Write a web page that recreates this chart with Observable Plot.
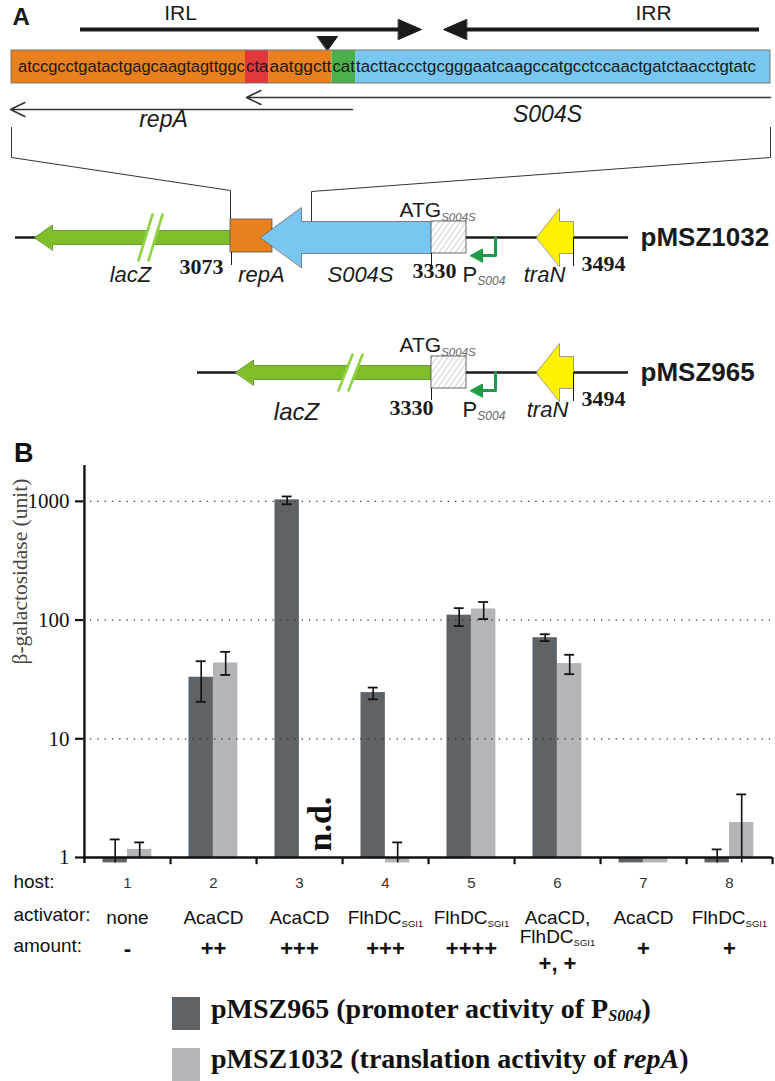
<!DOCTYPE html>
<html><head><meta charset="utf-8">
<script src="https://cdn.jsdelivr.net/npm/d3@7"></script>
<script src="https://cdn.jsdelivr.net/npm/@observablehq/plot@0.6"></script>
<style>
body{margin:0;background:#fff;}
#wrap{position:relative;width:775px;height:1081px;overflow:hidden;background:#fff;}
#wrap > *{position:absolute;}
svg{overflow:visible;}
#pb g[aria-label^="y-axis"] line, #pb g[aria-label="y-axis tick"] path{stroke-width:2.2px;stroke:#111;}
.leg{font-family:"Liberation Serif";font-weight:bold;font-size:28px;line-height:32px;color:#111;white-space:nowrap;}
.leg sub{font-size:0.58em;font-style:italic;vertical-align:-0.2em;line-height:0;}
</style></head><body><div id="wrap"></div>
<script>
// ---------------- Panel B data ----------------
const hosts = ["1","2","3","4","5","6","7","8"];
const activators = ["none","AcaCD","AcaCD","FlhDC_{SGI1}","FlhDC_{SGI1}","AcaCD,\nFlhDC_{SGI1}","AcaCD","FlhDC_{SGI1}"];
const amounts = ["-","++","+++","+++","++++","+, +","+","+"];
const seriesNames = ["pMSZ965","pMSZ1032"];
const promoter      = [0.9, 33, 1030, 24.5, 110, 71, 0.9, 0.9];
const promoterHi    = [1.42, 45, 1100, 27, 126, 76, null, 1.17];
const promoterLo    = [0.9, 20.5, 945, 21.5, 89, 66.5, null, 0.9];
const translation   = [1.17, 43.5, null, 0.9, 124, 43, 0.9, 1.97];
const translationHi = [1.34, 54, null, 1.34, 142, 51, null, 3.4];
const translationLo = [1.0, 34.5, null, 0.9, 102, 35, null, 0.9];
const yTicks = [1, 10, 100, 1000];
const gridValues = [10, 100, 1000];
const yLabel = "β-galactosidase (unit)";
const legendLabels = ["pMSZ965 (promoter activity of P<sub>S004</sub>)", "pMSZ1032 (translation activity of <i>repA</i>)"];

// ---------------- Panel A data ----------------
const seqParts = ["atccgcctgatactgagcaagtagttggc", "cta", "aatggctt", "cat", "tacttaccctgcgggaatcaagccatgcctccaactgatctaacctgtatc"];
const seqRoles = ["repA", "stop", "overlap", "start", "S004S"];
const constructs = ["pMSZ1032", "pMSZ965"];
const coords = ["3073", "3330", "3494"];

const sans = "Liberation Sans", serif = "Liberation Serif", ink = "#1a1a1a";
const C = {orange:"#e8801f", red:"#e2383b", green:"#4cb04a", blue:"#79c7f0", lime:"#80bd2a", limeLine:"#8fd244", yellow:"#fff200", dkgreen:"#1f9a46"};
const roleColor = {repA:C.orange, stop:C.red, overlap:C.orange, start:C.green, S004S:C.blue};

function subify(svg, {italic=false, fill=null, size="0.52em", shift="0.35em"} = {}) {
  const NS = "http://www.w3.org/2000/svg";
  svg.querySelectorAll("text, tspan").forEach(el => {
    Array.from(el.childNodes).forEach(node => {
      if (node.nodeType !== 3 || !node.nodeValue.includes("_{")) return;
      const s = node.nodeValue, frag = document.createDocumentFragment();
      const re = /_\{([^}]*)\}/g; let last = 0, m;
      while ((m = re.exec(s))) {
        if (m.index > last) frag.appendChild(document.createTextNode(s.slice(last, m.index)));
        const t = document.createElementNS(NS, "tspan");
        t.setAttribute("font-size", size);
        t.setAttribute("dy", shift);
        if (italic) t.setAttribute("font-style", "italic");
        if (fill) t.setAttribute("fill", fill);
        t.textContent = m[1];
        frag.appendChild(t);
        last = re.lastIndex;
      }
      if (last < s.length) frag.appendChild(document.createTextNode(s.slice(last)));
      node.replaceWith(frag);
    });
  });
}

const wrap = document.getElementById("wrap");

// ================= Panel A =================
const T = (txt, x, y, o = {}) => Plot.text([txt], {x, y, text: d => d, lineAnchor: "middle", fontFamily: sans, fill: ink, ...o});
const poly = (pts, o = {}) => Plot.line(pts, {x: d => d[0], y: d => d[1], curve: "linear-closed", stroke: ink, strokeWidth: 1, ...o});
const seg = (pts, o = {}) => Plot.line(pts, {x: d => d[0], y: d => d[1], stroke: ink, strokeWidth: 1, ...o});

const cw = 7.862, seqX0 = 17, boxX1 = 11, boxX2 = 770;
let off = 0;
const segs = seqParts.map((t, i) => { const s = {text: t, role: seqRoles[i], tx: seqX0 + off * cw, len: t.length * cw}; off += t.length; return s; });
segs.forEach((s, i) => { s.x1 = i === 0 ? boxX1 : s.tx; s.x2 = i === segs.length - 1 ? boxX2 : s.tx + s.len; });

function geneArrow(tip, headBase, end, yc, hb, hh) {
  return [[tip, yc], [headBase, yc - hh], [headBase, yc - hb], [end, yc - hb], [end, yc + hb], [headBase, yc + hb], [headBase, yc + hh]];
}
function breakMarks(cx, yc, h) {
  return [
    poly([[cx - 8, yc + h], [cx + 6, yc - h], [cx + 14, yc - h], [cx, yc + h]], {fill: "#fff", stroke: "none"}),
    seg([[cx - 9, yc + h], [cx + 5, yc - h]], {stroke: C.limeLine, strokeWidth: 2.6}),
    seg([[cx + 1, yc + h], [cx + 15, yc - h]], {stroke: C.limeLine, strokeWidth: 2.6})
  ];
}
function promoterArrow(x, yc, dy) {
  return [
    seg([[x, yc], [x, yc + dy], [x - 14, yc + dy]], {stroke: C.dkgreen, strokeWidth: 3}),
    poly([[x - 25, yc + dy], [x - 13, yc + dy - 6.5], [x - 13, yc + dy + 6.5]], {fill: C.dkgreen, stroke: C.dkgreen})
  ];
}
function row(name, yc, lacZtip, lacZend, withRep) {
  const m = [];
  m.push(Plot.ruleY([yc], {x1: withRep ? 15 : 197, x2: 628, stroke: ink, strokeWidth: 2.6}));
  m.push(poly(geneArrow(lacZtip, lacZtip + 18, lacZend, yc, 7, 12.5), {fill: C.lime, stroke: "#5b8a1c", strokeWidth: 0.8}));
  m.push(...breakMarks(withRep ? 147 : 347, yc, withRep ? 23 : 18));
  if (withRep) {
    m.push(Plot.rect([0], {x1: 230, x2: 272, y1: yc - 18, y2: yc + 15, fill: C.orange, stroke: "#555", strokeWidth: 0.8}));
    m.push(poly(geneArrow(260, 301, 431, yc, 16, 30), {fill: C.blue, stroke: "#666", strokeWidth: 0.8}));
  }
  m.push(Plot.rect([0], {x1: 431, x2: 466, y1: yc - 16, y2: yc + 16, fill: "url(#hatch)", stroke: "#444", strokeWidth: 0.8}));
  m.push(...promoterArrow(495, yc, 18));
  m.push(poly(geneArrow(536, 559, 573, yc, 16, 29), {fill: C.yellow, stroke: "#888", strokeWidth: 0.8}));
  m.push(T(name, 640, yc, {textAnchor: "start", fontSize: 26, fontWeight: "bold"}));
  m.push(T("ATG_{S004S}", 399, yc - 27, {textAnchor: "start", fontSize: 21}));
  m.push(Plot.ruleX([573], {y1: yc, y2: yc + 29, stroke: ink, strokeWidth: 1}));
  m.push(Plot.ruleX([431], {y1: yc + 16, y2: yc + 28, stroke: ink, strokeWidth: 1}));
  m.push(T(coords[2], 603, yc + 26, {fontFamily: serif, fontWeight: "bold", fontSize: 22}));
  m.push(T("P_{S004}", 462, yc + 37, {textAnchor: "start", fontSize: 22}));
  m.push(T("traN", withRep ? 544 : 547, yc + 37, {fontSize: 22, fontStyle: "italic"}));
  if (withRep) {
    m.push(Plot.ruleX([231], {y1: yc + 15, y2: yc + 28, stroke: ink, strokeWidth: 1}));
    m.push(T("lacZ", 130, yc + 37, {fontSize: 22, fontStyle: "italic"}));
    m.push(T(coords[0], 201, yc + 29, {fontFamily: serif, fontWeight: "bold", fontSize: 22}));
    m.push(T("repA", 261, yc + 37, {fontSize: 22, fontStyle: "italic"}));
    m.push(T("S004S", 360, yc + 37, {fontSize: 22, fontStyle: "italic"}));
    m.push(T(coords[1], 434, yc + 33, {fontFamily: serif, fontWeight: "bold", fontSize: 22}));
  } else {
    m.push(T("lacZ", 296, yc + 40, {fontSize: 24, fontStyle: "italic"}));
    m.push(T(coords[1], 411, yc + 35, {fontFamily: serif, fontWeight: "bold", fontSize: 22}));
  }
  return m;
}

const A = Plot.plot({
  width: 775, height: 430, margin: 0,
  x: {domain: [0, 775], range: [0, 775], axis: null},
  y: {domain: [0, 430], range: [0, 430], axis: null},
  color: {type: "identity"},
  style: {fontFamily: sans, background: "transparent", overflow: "visible"},
  marks: [
    T("A", 12, 16.5, {textAnchor: "start", fontSize: 24, fontWeight: "bold"}),
    T("IRL", 180, 13, {fontSize: 21}),
    T("IRR", 653, 13, {fontSize: 21}),
    Plot.ruleY([29], {x1: 80, x2: 402, stroke: ink, strokeWidth: 4}),
    poly([[398, 19], [421, 29], [398, 39]], {fill: ink}),
    Plot.ruleY([29], {x1: 463, x2: 759, stroke: ink, strokeWidth: 4}),
    poly([[466, 19], [443, 29], [466, 39]], {fill: ink}),
    poly([[317, 36], [337, 36], [327, 50]], {fill: ink}),
    Plot.rect(segs, {x1: "x1", x2: "x2", y1: 50, y2: 83, fill: d => roleColor[d.role]}),
    Plot.rect([0], {x1: boxX1, x2: boxX2, y1: 50, y2: 83, fill: "none", stroke: "#777", strokeWidth: 1}),
    Plot.text(segs, {x: d => d.tx + 0.5, y: 66.5, text: "text", textAnchor: "start", lineAnchor: "middle", fontFamily: sans, fontSize: 16.3, fill: ink}),
    Plot.arrow([0], {x1: 770, y1: 97, x2: 246, y2: 97, stroke: "#333", strokeWidth: 1.6, headLength: 15, headAngle: 52}),
    Plot.arrow([0], {x1: 352, y1: 109, x2: 10, y2: 109, stroke: "#333", strokeWidth: 1.6, headLength: 15, headAngle: 52}),
    T("S004S", 547, 114, {fontSize: 23, fontStyle: "italic"}),
    T("repA", 163, 119, {fontSize: 23, fontStyle: "italic"}),
    seg([[11, 127], [11, 157], [230, 190], [230, 219]], {stroke: "#333"}),
    seg([[770, 127], [770, 157], [311, 191], [311, 221]], {stroke: "#333"}),
    ...row(constructs[0], 237, 34, 230, true),
    ...row(constructs[1], 372, 235, 431, false)
  ]
});
// hatch pattern
{
  const NS = "http://www.w3.org/2000/svg";
  const defs = document.createElementNS(NS, "defs");
  defs.innerHTML = '<pattern id="hatch" patternUnits="userSpaceOnUse" width="4.5" height="4.5" patternTransform="rotate(35)"><rect width="4.5" height="4.5" fill="#fff"/><line x1="0" y1="0" x2="0" y2="4.5" stroke="#9a9a9a" stroke-width="0.9"/></pattern>';
  A.insertBefore(defs, A.firstChild);
}
A.querySelectorAll("text").forEach(el => {
  const s = segs.find(g => g.text === el.textContent);
  if (s) { el.setAttribute("textLength", s.len - 1.2); el.setAttribute("lengthAdjust", "spacingAndGlyphs"); }
});
subify(A, {italic: true, fill: "#666", size: "0.55em", shift: "0.3em"});
A.style.left = "0px"; A.style.top = "0px";
wrap.appendChild(A);

// ================= Panel B =================
const rows = [];
hosts.forEach((h, i) => {
  rows.push({host: h, series: seriesNames[0], value: promoter[i], hi: promoterHi[i], lo: promoterLo[i]});
  rows.push({host: h, series: seriesNames[1], value: translation[i], hi: translationHi[i], lo: translationLo[i]});
});
const labels = hosts.map((h, i) => ({host: h, activator: activators[i], amount: amounts[i]}));
const dark = rows.filter(d => d.series === seriesNames[0]);
const light = rows.filter(d => d.series === seriesNames[1]);
const capsOf = s => s.flatMap(d => [d.hi != null ? {host: d.host, v: d.hi} : null, d.lo != null && d.lo > 1.05 ? {host: d.host, v: d.lo} : null]).filter(Boolean);

const mL = 83, mR = 3, BW = (775 - mL - mR) / 8;
const outer = 18.5, barW = 24.5, capW = 10;
const dIn = [outer, BW - outer - barW], lIn = [outer + barW, BW - outer - 2 * barW];
const dC = outer + barW / 2 - BW / 2, lC = outer + 1.5 * barW - BW / 2;
const sansT = {fontFamily: sans, fill: "#111"};

const B = Plot.plot({
  width: 775, height: 560, marginTop: 35, marginBottom: 127, marginLeft: mL, marginRight: mR,
  style: {fontFamily: serif, fontSize: "21px", color: "#111", background: "transparent", overflow: "visible"},
  x: {domain: hosts, axis: null, padding: 0},
  y: {type: "log", domain: [0.89, 2005], ticks: yTicks, tickFormat: d => String(d), tickSize: 8, tickPadding: 6, label: null},
  marks: [
    Plot.barY(dark.filter(d => d.value != null), {x: "host", y1: 1, y2: "value", fill: "#5e6367", insetLeft: dIn[0], insetRight: dIn[1]}),
    Plot.barY(light.filter(d => d.value != null), {x: "host", y1: 1, y2: "value", fill: "#b4b5b9", insetLeft: lIn[0], insetRight: lIn[1]}),
    Plot.ruleY(gridValues, {stroke: "#333", strokeWidth: 1.3, strokeDasharray: "1.3 6", insetLeft: 7, insetRight: 2}),
    Plot.ruleX(dark.filter(d => d.hi != null), {x: "host", y1: d => d.lo ?? d.value, y2: "hi", dx: dC, stroke: "#111", strokeWidth: 1.6}),
    Plot.ruleX(light.filter(d => d.hi != null), {x: "host", y1: d => d.lo ?? d.value, y2: "hi", dx: lC, stroke: "#111", strokeWidth: 1.6}),
    Plot.tickY(capsOf(dark), {x: "host", y: "v", insetLeft: BW / 2 + dC - capW / 2, insetRight: BW / 2 - dC - capW / 2, stroke: "#111", strokeWidth: 1.8}),
    Plot.tickY(capsOf(light), {x: "host", y: "v", insetLeft: BW / 2 + lC - capW / 2, insetRight: BW / 2 - lC - capW / 2, stroke: "#111", strokeWidth: 1.8}),
    Plot.ruleY([1], {stroke: "#111", strokeWidth: 2.4}),
    Plot.ruleX([hosts[0]], {x: d => d, dx: -BW / 2, stroke: "#111", strokeWidth: 2.4}),
    Plot.ruleX(hosts, {x: d => d, dx: BW / 2, y1: 1, y2: 0.87, stroke: "#111", strokeWidth: 2.2}),
    Plot.text(["n.d."], {x: () => hosts[2], text: d => d, frameAnchor: "bottom", dx: 21, dy: -12, rotate: -90, textAnchor: "start", lineAnchor: "middle", fontFamily: serif, fontWeight: "bold", fontSize: 34, fill: "#111"}),
    Plot.text([yLabel], {text: d => d, frameAnchor: "left", dx: -63, rotate: -90, lineAnchor: "middle", fontFamily: serif, fontSize: 21.5, fill: "#444"}),
    Plot.text(labels, {x: "host", text: "host", frameAnchor: "bottom", dy: 20, lineAnchor: "middle", fontFamily: sans, fontSize: 15, fill: "#333"}),
    Plot.text(labels, {x: "host", text: "activator", frameAnchor: "bottom", dy: 47, lineAnchor: "top", lineHeight: 1.0, fontSize: 19, ...sansT}),
    Plot.text(labels.filter(d => !d.activator.includes("\n")), {x: "host", text: "amount", frameAnchor: "bottom", dy: 85, lineAnchor: "middle", fontSize: 22, fontWeight: "bold", ...sansT}),
    Plot.text(labels.filter(d => d.activator.includes("\n")), {x: "host", text: "amount", frameAnchor: "bottom", dy: 100, lineAnchor: "middle", fontSize: 22, fontWeight: "bold", ...sansT}),
    Plot.text(["host:"], {x: () => hosts[0], text: d => d, frameAnchor: "bottom", dx: -BW / 2 - 71, dy: 18, textAnchor: "start", lineAnchor: "middle", fontSize: 19, ...sansT}),
    Plot.text(["activator:"], {x: () => hosts[0], text: d => d, frameAnchor: "bottom", dx: -BW / 2 - 71, dy: 51, textAnchor: "start", lineAnchor: "middle", fontSize: 19, ...sansT}),
    Plot.text(["amount:"], {x: () => hosts[0], text: d => d, frameAnchor: "bottom", dx: -BW / 2 - 71, dy: 82, textAnchor: "start", lineAnchor: "middle", fontSize: 19, ...sansT})
  ]
});
B.id = "pb";
subify(B, {size: "0.5em", shift: "0.3em"});
B.style.left = "0px"; B.style.top = "430px";
wrap.appendChild(B);

// "B" label and legend
const bl = document.createElement("div");
bl.textContent = "B";
bl.style.cssText = `left:14px;top:440px;font:bold 27px/27px "${sans}";color:#111;`;
wrap.appendChild(bl);
const swatch = ["#5e6367", "#b4b5b9"];
legendLabels.forEach((lab, i) => {
  const sw = document.createElement("div");
  sw.style.cssText = `left:172px;top:${997 + i * 51}px;width:28px;height:33px;background:${swatch[i]};`;
  wrap.appendChild(sw);
  const tx = document.createElement("div");
  tx.className = "leg";
  tx.innerHTML = lab;
  tx.style.left = "211px"; tx.style.top = `${993 + i * 50}px`;
  wrap.appendChild(tx);
});
</script></body></html>
